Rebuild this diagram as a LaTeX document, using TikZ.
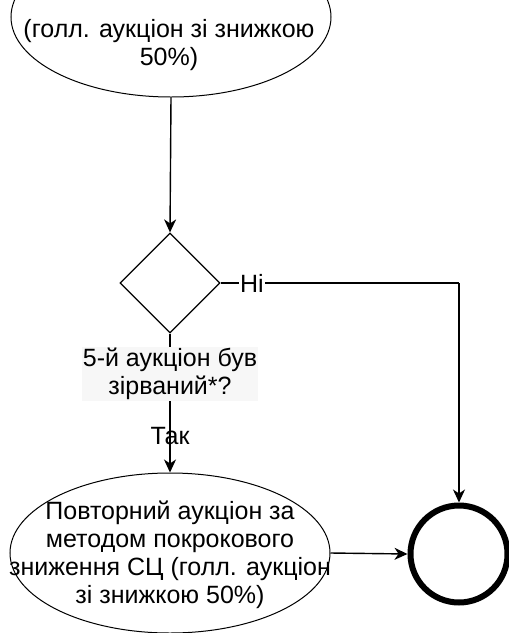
\documentclass[tikz,border=0pt]{standalone}
\usepackage{fontspec}
\setmainfont{Liberation Sans}
\usetikzlibrary{shapes.geometric,arrows.meta}
\begin{document}
\begin{tikzpicture}[x=1pt,y=-1pt,
  every node/.style={font=\fontsize{25}{28}\selectfont},
  proc/.style={draw,line width=1pt,ellipse,minimum width=320pt,minimum height=160pt,inner sep=0pt},
  decide/.style={draw,line width=1.2pt,diamond,minimum width=100pt,minimum height=100pt,inner sep=0pt},
  endstate/.style={draw,line width=6pt,circle,minimum size=97pt,inner sep=0pt},
  conn/.style={line width=1.4pt,-{Stealth[length=13pt,width=12pt,inset=4pt]}},
  lbl/.style={inner sep=1pt,align=center}]
\useasboundingbox (0,0) rectangle (509,633);
\begin{scope}
\clip (0,0) rectangle (509,633);
\node[proc] (top) at (171,17) {};
\node[lbl] (toptext) at (169,45) {(голл. аукціон зі знижкою\\50\%)};
\node[decide] (dec) at (170,283) {};
\node[proc] (rep) at (170,553) {};
\node[lbl] (reptext) at (170,555) {Повторний аукціон за\\методом покрокового\\зниження СЦ (голл. аукціон\\зі знижкою 50\%)};
\node[endstate] (end) at (459,554) {};
\coordinate (corner) at (459,283);
\draw[conn] (top.south) -- (dec.north);
\draw[conn] (dec.south) -- (rep.north);
\draw[line width=1.4pt] (dec.east) -- (corner);
\draw[conn] (corner) -- (end.north);
\draw[conn] (rep.east) -- (end.west);
\node[lbl,fill=black!3] (q) at (170,374) {5-й аукціон був\\зірваний*?};
\node[lbl] (yes) at (170,436) {Так};
\node[lbl,fill=white] (no) at (252,283) {Ні};
\end{scope}
\end{tikzpicture}
\end{document}
